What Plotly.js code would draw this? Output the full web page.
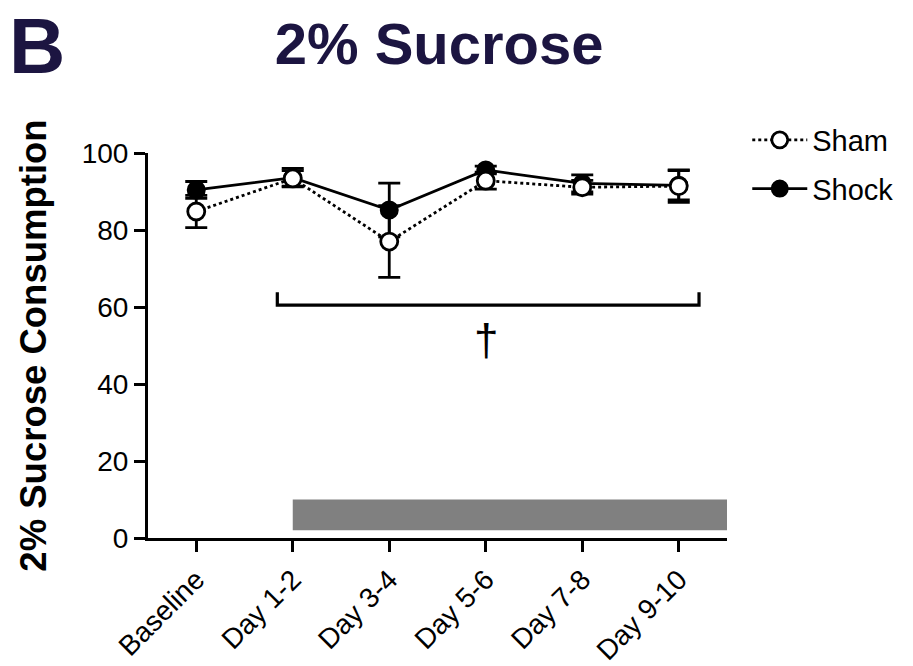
<!DOCTYPE html>
<html>
<head>
<meta charset="utf-8">
<script src="https://cdn.plot.ly/plotly-3.0.1.min.js"></script>
<style>html,body{margin:0;padding:0;background:#fff;}#chart{width:913px;height:666px;}</style>
</head>
<body>
<div id="chart"></div>
<script>
const categories = ["Baseline", "Day 1-2", "Day 3-4", "Day 5-6", "Day 7-8", "Day 9-10"];
const shamMean = [84.8, 93.4, 77.0, 92.8, 91.1, 91.4];
const shamSEM  = [4.2, 2.0, 9.3, 2.2, 1.8, 4.2];
const shockMean = [90.4, 93.6, 85.2, 95.6, 92.1, 91.6];
const shockSEM  = [2.2, 2.4, 7.0, 1.0, 2.2, 3.8];
const yTicks = [0, 20, 40, 60, 80, 100];

const xIdx = categories.map((c, i) => i);
const FONT = "Arial, 'Liberation Sans', Helvetica, sans-serif";
const NAVY = "#1c1541";

const shock = {
  x: xIdx, y: shockMean, name: "Shock", type: "scatter", mode: "lines+markers",
  line: {color: "#000", width: 2.8},
  marker: {symbol: "circle", size: 17, color: "#000", line: {color: "#000", width: 2}},
  error_y: {type: "data", array: shockSEM, visible: true, color: "#000", thickness: 2.8, width: 11},
  legendrank: 2, legendgroup: "b", cliponaxis: false
};
const sham = {
  x: xIdx, y: shamMean, name: "Sham", type: "scatter", mode: "lines+markers",
  line: {color: "#000", width: 2.8, dash: "dot"},
  marker: {symbol: "circle", size: 17, color: "#fff", line: {color: "#000", width: 2.8}},
  error_y: {type: "data", array: shamSEM, visible: true, color: "#000", thickness: 2.8, width: 11},
  legendrank: 1, legendgroup: "a", cliponaxis: false
};

const layout = {
  width: 913, height: 666,
  margin: {l: 148, r: 186, t: 153, b: 128},
  paper_bgcolor: "#fff", plot_bgcolor: "#fff",
  showlegend: true,
  title: {
    text: "<b>2% Sucrose</b>",
    font: {family: FONT, size: 58, color: NAVY},
    xref: "container", yref: "container",
    x: 0.481, xanchor: "center", y: 0.935, yanchor: "middle"
  },
  legend: {
    x: 1.035, xanchor: "left", y: 1.1, yanchor: "top",
    font: {family: FONT, size: 29, color: "#000"},
    traceorder: "grouped", tracegroupgap: 8,
    bgcolor: "rgba(0,0,0,0)", itemwidth: 55
  },
  xaxis: {
    range: [-0.5, 5.5], tickmode: "array", tickvals: xIdx, ticktext: categories,
    tickangle: -45, tickfont: {family: FONT, size: 28, color: "#000"},
    showline: true, linecolor: "#000", linewidth: 3,
    ticks: "outside", ticklen: 11, tickwidth: 3, tickcolor: "#000",
    showgrid: false, zeroline: false, fixedrange: true
  },
  yaxis: {
    range: [0, 100], tickmode: "array", tickvals: yTicks,
    tickfont: {family: FONT, size: 28, color: "#000"},
    showline: true, linecolor: "#000", linewidth: 3,
    ticks: "outside", ticklen: 11, tickwidth: 3, tickcolor: "#000",
    showgrid: false, zeroline: false, fixedrange: true,
    title: {text: "<b>2% Sucrose Consumption</b>", font: {family: FONT, size: 36.5, color: "#000"}, standoff: 24}
  },
  shapes: [
    {type: "rect", xref: "x", yref: "y", x0: 1, x1: 5.5, y0: 2, y1: 10,
     fillcolor: "#808080", line: {width: 0}, layer: "above"},
    {type: "path", xref: "x", yref: "y",
     path: "M 0.84 63.8 L 0.84 60.5 L 5.21 60.5 L 5.21 63.8",
     line: {color: "#000", width: 3.2}}
  ],
  annotations: [
    {text: "<b>B</b>", xref: "paper", yref: "paper", x: -0.192, y: 1.395,
     xanchor: "center", yanchor: "top", showarrow: false, borderpad: 0,
     font: {family: FONT, size: 78, color: NAVY}},
    {text: "†", xref: "x", yref: "y", x: 3, y: 51.5, xanchor: "center", yanchor: "middle",
     showarrow: false, font: {family: FONT, size: 44, color: "#000"}}
  ]
};

Plotly.newPlot("chart", [shock, sham], layout, {displayModeBar: false, staticPlot: true});
</script>
</body>
</html>
